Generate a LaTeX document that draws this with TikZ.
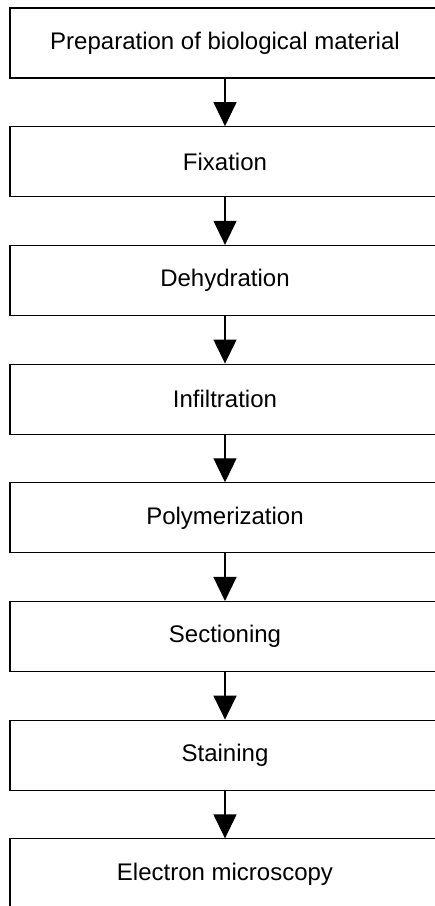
\documentclass[tikz,border=0pt]{standalone}
\usepackage{fontspec}
\setmainfont{Liberation Sans}
\usetikzlibrary{arrows.meta}
\tikzset{
	stage/.style={draw, line width=1.1pt, minimum width=430pt, minimum height=70pt,
		inner sep=0pt, font=\fontsize{24}{28}\selectfont},
	flow/.style={-{Triangle[width=23pt,length=24pt]}, line width=1.3pt}
}

\begin{document}
\begin{tikzpicture}[x=1pt,y=-1pt]
		\useasboundingbox (0,0) rectangle (435,906);
		\clip (0,0) rectangle (435,906);
		%%  Steps  %%%%%%%%
		\node[stage] (prep) at (225,43) {Preparation of biological material};
		\node[stage] (fix) at (225,161.7) {Fixation};
		\node[stage] (dehyd) at (225,280.4) {Dehydration};
		\node[stage] (infil) at (225,399.1) {Infiltration};
		\node[stage] (poly) at (225,517.8) {Polymerization};
		\node[stage] (sect) at (225,636.5) {Sectioning};
		\node[stage] (stain) at (225,755.2) {Staining};
		\node[stage] (em) at (225,873.9) {Electron microscopy};
		%%  Arrows  %%%%%%%
		\draw[flow] (prep) -- (fix);
		\draw[flow] (fix) -- (dehyd);
		\draw[flow] (dehyd) -- (infil);
		\draw[flow] (infil) -- (poly);
		\draw[flow] (poly) -- (sect);
		\draw[flow] (sect) -- (stain);
		\draw[flow] (stain) -- (em);
		%%%%%%%%%%%%%%%
	\end{tikzpicture}
\end{document}
